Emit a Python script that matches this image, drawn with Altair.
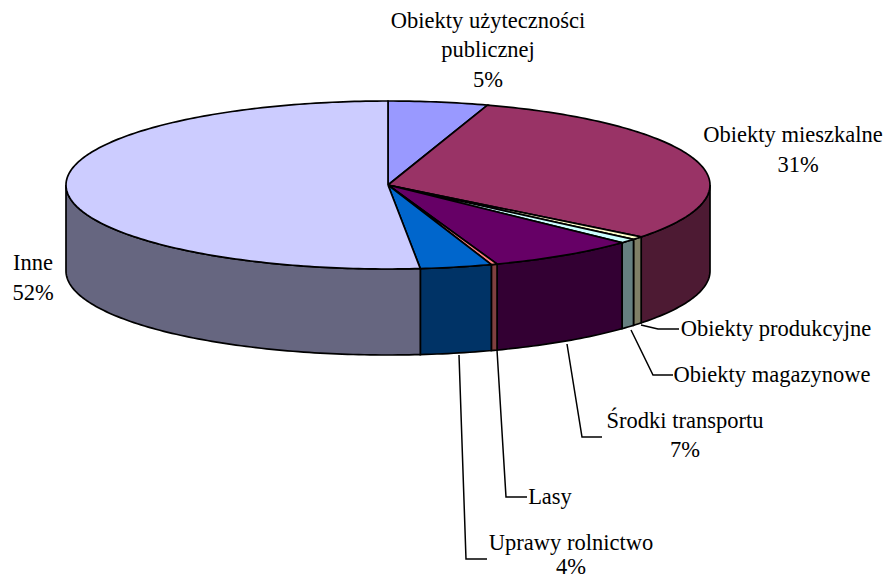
import math
import altair as alt
import pandas as pd

names = ["Obiekty użyteczności publicznej", "Obiekty mieszkalne", "Obiekty produkcyjne",
         "Obiekty magazynowe", "Środki transportu", "Lasy", "Uprawy rolnictwo", "Inne"]
shares = [5.0, 30.6, 0.6, 0.85, 7.45, 0.3, 3.6, 51.6]
top_colors = ["#9999FF", "#993366", "#FFFFCC", "#CCFFFF", "#660066", "#FF8080", "#0066CC", "#CCCCFF"]
side_colors = ["#4D4D80", "#4D1A33", "#808066", "#668080", "#330033", "#804040", "#003366", "#666680"]

label_texts = ["Obiekty użyteczności", "publicznej", "5%", "Obiekty mieszkalne", "31%", "Inne", "52%",
               "Obiekty produkcyjne", "Obiekty magazynowe", "Środki transportu", "7%", "Lasy",
               "Uprawy rolnictwo", "4%"]
label_x = [488, 488, 488, 793, 798, 33, 33, 776, 772, 685, 685, 550, 571, 571]
label_y = [28, 57, 87, 142, 172, 270, 300, 336, 382, 428, 457, 504, 550, 574]

leaders = [
    [(641, 325), (658, 329), (679, 329)],
    [(631, 330), (653, 375), (673, 375)],
    [(567, 344), (582, 437), (602, 437)],
    [(497, 350), (506, 497), (527, 497)],
    [(459, 355), (466, 559), (487, 559)],
]

CX, CY, RX, RY, DEPTH = 388, 185, 322, 84, 86
WIDTH, HEIGHT = 875, 572

xs = alt.Scale(domain=[8, 8 + WIDTH], nice=False, zero=False)
ys = alt.Scale(domain=[8 + HEIGHT, 8], nice=False, zero=False)


def poly_layer(points, fill, sw=1.7):
    df = pd.DataFrame(points, columns=["x", "y"])
    df["i"] = range(len(df))
    return alt.Chart(df).mark_line(fill=fill, stroke="black", strokeWidth=sw, interpolate="linear").encode(
        x=alt.X("x:Q", scale=xs, axis=None),
        y=alt.Y("y:Q", scale=ys, axis=None),
        order="i:Q",
    )


def rim(a0, a1, dy=0.0):
    n = max(2, int(abs(a1 - a0) / 1.0) + 2)
    out = []
    for k in range(n):
        a = math.radians(a0 + (a1 - a0) * k / (n - 1))
        out.append((CX + RX * math.sin(a), CY - RY * math.cos(a) + dy))
    return out


layers = []
starts, acc = [], 0.0
for s in shares:
    starts.append(acc)
    acc += s
scale = 360.0 / acc

for i, s in enumerate(shares):
    a0 = max(starts[i] * scale, 90)
    a1 = min((starts[i] + s) * scale, 270)
    if a1 <= a0:
        continue
    top = rim(a0, a1)
    bottom = rim(a1, a0, DEPTH)
    layers.append(poly_layer(top + bottom + [top[0]], side_colors[i]))

for i, s in enumerate(shares):
    arc = rim(starts[i] * scale, (starts[i] + s) * scale)
    layers.append(poly_layer([(CX, CY)] + arc + [(CX, CY)], top_colors[i]))

for k, pts in enumerate(leaders):
    df = pd.DataFrame(pts, columns=["x", "y"])
    df["i"] = range(len(df))
    layers.append(alt.Chart(df).mark_line(stroke="black", strokeWidth=1.5).encode(
        x=alt.X("x:Q", scale=xs, axis=None), y=alt.Y("y:Q", scale=ys, axis=None), order="i:Q"))

labels = pd.DataFrame({"t": label_texts, "x": label_x, "y": label_y})
layers.append(alt.Chart(labels).mark_text(font="Liberation Serif", fontSize=22.5, color="black",
                                          align="center", baseline="alphabetic").encode(
    x=alt.X("x:Q", scale=xs, axis=None), y=alt.Y("y:Q", scale=ys, axis=None), text="t:N"))

chart = alt.layer(*layers).properties(
    width=WIDTH, height=HEIGHT, padding=0, autosize=alt.AutoSizeParams(type="none")
).configure_view(stroke=None)
chart.save("out.html", embed_options={"renderer": "svg", "actions": False})
